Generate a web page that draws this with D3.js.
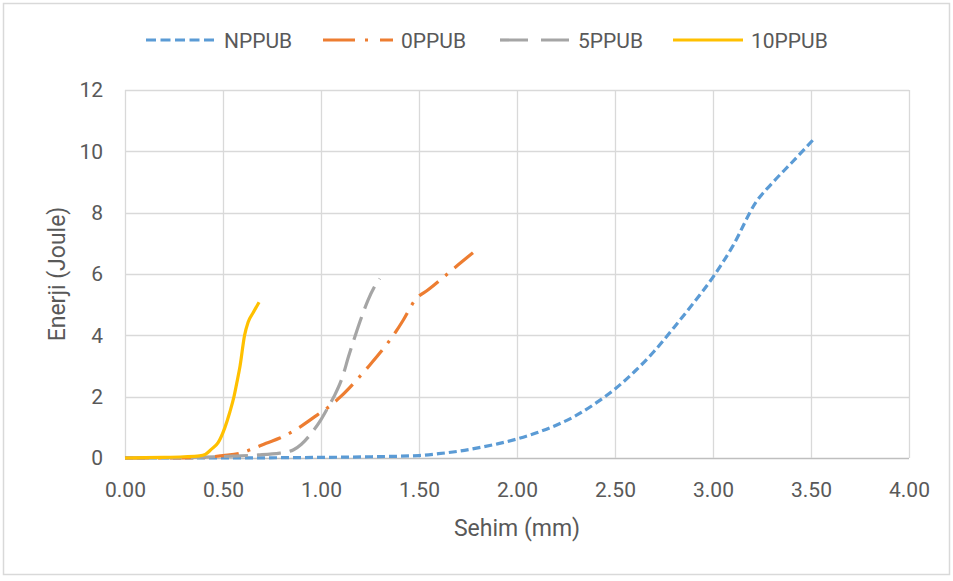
<!DOCTYPE html>
<html><head><meta charset="utf-8">
<script src="https://cdn.jsdelivr.net/npm/d3@7"></script>
<style>body{margin:0;background:#fff}svg{display:block}text{font-family:Roboto,"Noto Sans",sans-serif;fill:#595959}</style>
</head><body><svg id="c" width="953" height="581"></svg>
<script>
const seriesNames = ["NPPUB","0PPUB","5PPUB","10PPUB"];
const seriesColors = ["#5b9bd5","#ed7d31","#a5a5a5","#ffc000"];
const seriesDash = ["8,4","24,9,3,9","24,9",null];
const legendDash = ["10,4.5","32,10,3,12,30","28,13",null];
const xTicks = [0,0.5,1,1.5,2,2.5,3,3.5,4];
const yTicks = [0,2,4,6,8,10,12];

const npX = [0,0.5,0.8,1.0,1.25,1.5,1.6,1.7,1.8,1.9,2.0,2.1,2.2,2.3,2.4,2.5,2.6,2.7,2.8,2.9,3.0,3.1,3.22,3.3,3.4,3.51];
const npY = [0,0,0.01,0.02,0.04,0.08,0.14,0.22,0.33,0.46,0.62,0.82,1.07,1.38,1.78,2.25,2.82,3.48,4.25,5.05,5.9,6.9,8.35,8.95,9.62,10.37];
const p0X = [0,0.2,0.4,0.5,0.59,0.66,0.72,0.79,0.89,0.98,1.04,1.1,1.19,1.245,1.3,1.38,1.42,1.48,1.55,1.62,1.7,1.78];
const p0Y = [0,0,0.02,0.08,0.16,0.32,0.48,0.65,1.0,1.4,1.67,2.0,2.6,3.0,3.42,4.1,4.5,5.15,5.5,5.87,6.3,6.72];
const p5X = [0,0.2,0.4,0.55,0.68,0.79,0.83,0.86,0.9,0.95,1.0,1.04,1.07,1.11,1.14,1.17,1.21,1.24,1.27,1.3];
const p5Y = [0,0.01,0.03,0.06,0.1,0.16,0.2,0.27,0.45,0.8,1.25,1.7,2.05,2.65,3.3,3.9,4.65,5.15,5.55,5.85];
const p10X = [0,0.1,0.2,0.3,0.38,0.41,0.44,0.475,0.51,0.535,0.556,0.572,0.587,0.61,0.628,0.655,0.684];
const p10Y = [0,0.01,0.02,0.04,0.07,0.12,0.28,0.5,1.0,1.5,2.0,2.5,3.0,4.0,4.43,4.75,5.08];

const seriesX = [npX,p0X,p5X,p10X];
const seriesY = [npY,p0Y,p5Y,p10Y];

const svg = d3.select("#c");
const L=125,R=909,T=90,B=458;
const x = d3.scaleLinear().domain([0,4]).range([L,R]);
const y = d3.scaleLinear().domain([0,12]).range([B,T]);

svg.append("rect").attr("x",3.5).attr("y",3.5).attr("width",946).attr("height",571)
  .attr("fill","#fff").attr("stroke","#d9d9d9").attr("stroke-width",1.5);

// grid
svg.append("g").selectAll("line").data(yTicks).join("line")
  .attr("x1",L).attr("x2",R).attr("y1",d=>Math.round(y(d))+0.5).attr("y2",d=>Math.round(y(d))+0.5)
  .attr("stroke",d=>d===0?"#bfbfbf":"#d9d9d9").attr("stroke-width",1.3);
svg.append("g").selectAll("line").data(xTicks).join("line")
  .attr("y1",T).attr("y2",B).attr("x1",d=>Math.round(x(d))+0.5).attr("x2",d=>Math.round(x(d))+0.5)
  .attr("stroke","#d9d9d9").attr("stroke-width",1.3);

// axes (labels via d3 axes)
const xa = svg.append("g").attr("transform",`translate(0,${B})`)
  .call(d3.axisBottom(x).tickValues(xTicks).tickFormat(d3.format(".2f")).tickSize(0).tickPadding(24));
const ya = svg.append("g").attr("transform",`translate(${L},0)`)
  .call(d3.axisLeft(y).tickValues(yTicks).tickFormat(d3.format("d")).tickSize(0).tickPadding(22));
[xa,ya].forEach(a=>{a.select(".domain").remove();a.selectAll("text").attr("font-size",21).attr("fill","#595959").attr("font-family","Roboto");});

// lines
const line = d3.line().x(d=>x(d[0])).y(d=>y(d[1])).curve(d3.curveMonotoneX);
seriesNames.forEach((n,i)=>{
  const pts = seriesX[i].map((v,j)=>[v,seriesY[i][j]]);
  svg.append("path").datum(pts).attr("d",line).attr("fill","none")
    .attr("stroke",seriesColors[i]).attr("stroke-width",3.2)
    .attr("stroke-dasharray",seriesDash[i]).attr("stroke-linejoin","round");
});

// legend
const legX = [146,323,500,673];
seriesNames.forEach((n,i)=>{
  svg.append("line").attr("x1",legX[i]).attr("x2",legX[i]+70).attr("y1",40).attr("y2",40)
    .attr("stroke",seriesColors[i]).attr("stroke-width",3.2).attr("stroke-dasharray",legendDash[i]);
  svg.append("text").attr("x",legX[i]+78).attr("y",40).attr("dy","0.36em").attr("font-size",21).text(n);
});

// titles
svg.append("text").attr("x",517).attr("y",528).attr("dy","0.36em").attr("text-anchor","middle").attr("font-size",23).text("Sehim (mm)");
svg.append("text").attr("transform","translate(57,274) rotate(-90)").attr("dy","0.36em").attr("text-anchor","middle").attr("font-size",23).text("Enerji (Joule)");
</script></body></html>
